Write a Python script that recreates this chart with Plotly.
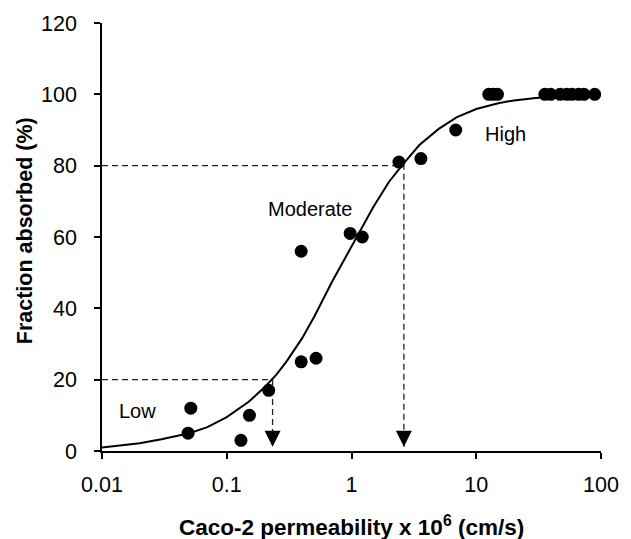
import math
import plotly.graph_objects as go

# Measured compounds: Caco-2 permeability (x 10^6 cm/s) vs fraction absorbed (%)
perm = [0.049, 0.0515, 0.13, 0.152, 0.217, 0.395, 0.395, 0.52, 0.975, 1.22,
        2.4, 3.6, 6.85, 12.6, 13.6, 14.8,
        35.5, 39.5, 47, 53, 58.5, 66, 73, 89]
fa = [5, 12, 3, 10, 17, 25, 56, 26, 61, 60,
      81, 82, 90, 100, 100, 100,
      100, 100, 100, 100, 100, 100, 100, 100]

# Fitted sigmoid curve
curve_x = [0.01, 0.02, 0.03, 0.05, 0.07, 0.1, 0.15, 0.2, 0.25, 0.3, 0.4, 0.5,
           0.7, 1.0, 1.5, 2.0, 2.6, 3.5, 5.0, 7.0, 10, 15, 20, 30, 50, 100]
curve_y = [1.0, 2.2, 3.3, 5.0, 6.7, 9.5, 13.8, 17.8, 21.4, 25.0, 31.5, 37.5,
           47.5, 57.5, 68.5, 75.5, 80.5, 85.8, 90.3, 93.6, 95.9, 97.5, 98.3, 99.0, 99.5, 99.8]

# Classification cut-offs (permeability at 20% and 80% absorbed)
cut_x = [0.233, 2.63]
cut_y = [20, 80]

# Region labels (x given as permeability)
label_text = ["Low", "Moderate", "High"]
label_x = [0.0194, 0.467, 17.0]
label_y = [11.3, 67.8, 89.0]

FONT = "Liberation Sans, Arial, sans-serif"

fig = go.Figure()

# Dashed guide lines with arrowheads
for cx, cy in zip(cut_x, cut_y):
    fig.add_trace(go.Scatter(
        x=[curve_x[0], cx, cx], y=[cy, cy, 1.2], mode="lines",
        line=dict(color="#222222", width=1.3, dash="6px,4px"),
        hoverinfo="skip", showlegend=False))
    fig.add_trace(go.Scatter(
        x=[cx], y=[1.2], mode="markers",
        marker=dict(symbol="arrow-down", size=16, color="black", line=dict(width=0)),
        hoverinfo="skip", showlegend=False))

fig.add_trace(go.Scatter(
    x=curve_x, y=curve_y, mode="lines",
    line=dict(color="black", width=2), showlegend=False))

fig.add_trace(go.Scatter(
    x=perm, y=fa, mode="markers",
    marker=dict(color="black", size=13, line=dict(width=0)), showlegend=False))

for t, lx, ly in zip(label_text, label_x, label_y):
    fig.add_annotation(x=math.log10(lx), y=ly, xref="x", yref="y", text=t, showarrow=False,
                       xanchor="center", yanchor="middle",
                       font=dict(family=FONT, size=20, color="black"))

# Axis titles
fig.add_annotation(xref="paper", yref="paper", x=-0.155, y=0.515,
                   xanchor="center", yanchor="middle",
                   text="<b>Fraction absorbed (%)</b>", textangle=-90, showarrow=False,
                   font=dict(family=FONT, size=21.5, color="black"))
fig.add_annotation(xref="paper", yref="paper", x=0.501, y=-0.176,
                   xanchor="center", yanchor="middle",
                   text="<b>Caco-2 permeability x 10<sup>6</sup> (cm/s)</b>", showarrow=False,
                   font=dict(family=FONT, size=22.5, color="black"))

fig.update_layout(
    width=631, height=539,
    margin=dict(l=101.5, r=29.3, t=21, b=87.5),
    plot_bgcolor="white", paper_bgcolor="white",
    font=dict(family=FONT, size=21.5, color="black"),
)
fig.update_xaxes(type="log", range=[-2, 2], tickvals=[0.01, 0.1, 1, 10, 100],
                 ticktext=["0.01", "0.1", "1", "10", "100"],
                 showgrid=False, zeroline=False, showline=True, linecolor="black",
                 linewidth=1.5, ticks="outside", ticklen=6, tickwidth=1.5, tickcolor="black",
                 ticklabelstandoff=7,
                 tickfont=dict(family=FONT, size=21.5, color="black"))
fig.update_yaxes(range=[0, 120], tickvals=[0, 20, 40, 60, 80, 100, 120],
                 showgrid=False, zeroline=False, showline=True, linecolor="black",
                 linewidth=1.5, ticks="outside", ticklen=6, tickwidth=1.5, tickcolor="black",
                 ticklabelstandoff=13,
                 tickfont=dict(family=FONT, size=21.5, color="black"))

fig.write_html("out.html")
